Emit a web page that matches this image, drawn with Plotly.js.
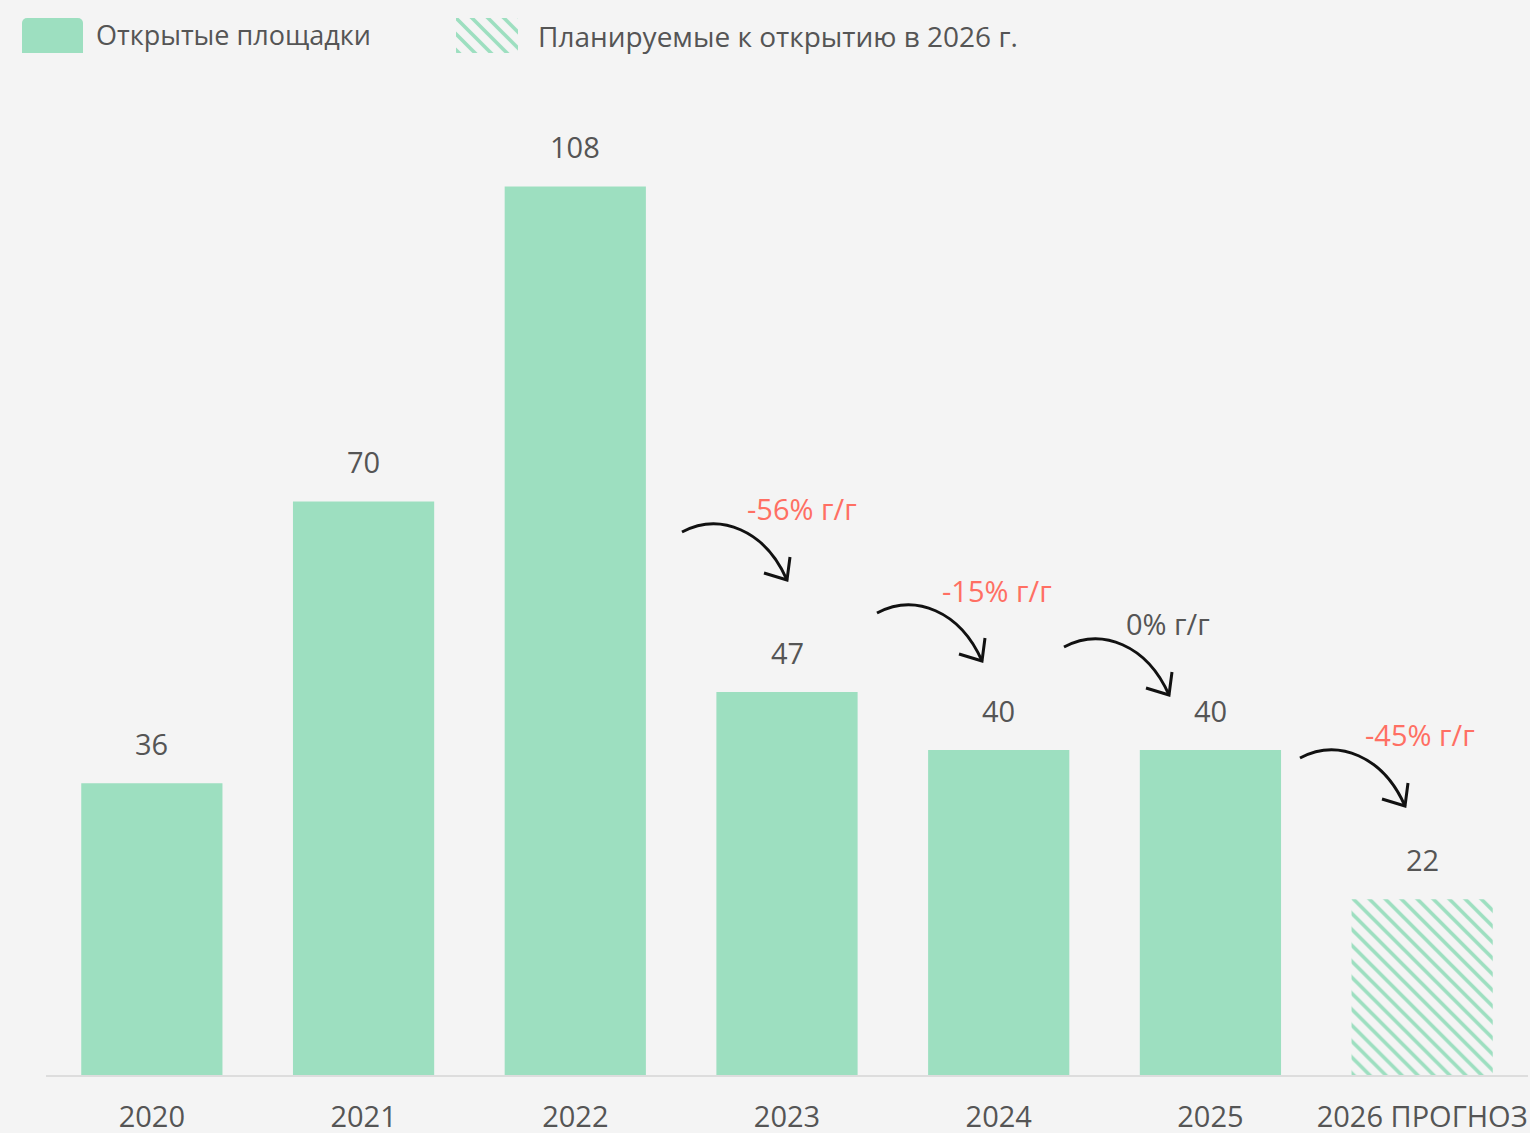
<!DOCTYPE html>
<html>
<head>
<meta charset="utf-8">
<script src="https://cdn.plot.ly/plotly-3.0.1.min.js"></script>
<style>
  html, body { margin: 0; padding: 0; background: #f4f4f4; }
  #chart { width: 1530px; height: 1133px; }
</style>
</head>
<body>
<div id="chart"></div>
<script>
// ---- Data ----
const categories = ['2020', '2021', '2022', '2023', '2024', '2025', '2026 ПРОГНОЗ'];
const values = [36, 70, 108, 47, 40, 40, 22];
const forecastFlags = [false, false, false, false, false, false, true];
const changeLabels = ['-56% г/г', '-15% г/г', '0% г/г', '-45% г/г'];
const legendLabels = ['Открытые площадки', 'Планируемые к открытию в 2026 г.'];

// ---- Styles ----
const GREEN = '#9ddfc0';
const BG = '#f4f4f4';
const TEXT = '#555555';
const RED = '#ff6f63';
const FONT = 'Open Sans, Noto Sans, sans-serif';

// plot geometry (pixel helpers for decorations)
const W = 1530, H = 1133, MB = 58;
const PLOT_L = 46, PLOT_R = 1528, PLOT_T = 87, PLOT_B = 1075;
const Y_MIN = 0.8, Y_MAX = 120;
function dx(px) { return -0.5 + (px - PLOT_L) / (PLOT_R - PLOT_L) * 7; }
function dy(py) { return Y_MIN + (PLOT_B - py) / (PLOT_B - PLOT_T) * (Y_MAX - Y_MIN); }

const idx = categories.map((c, i) => i);
const actX = idx.filter(i => !forecastFlags[i]);
const fcX = idx.filter(i => forecastFlags[i]);

const HATCH = { shape: '\\', size: 11.3, solidity: 0.32, fgcolor: GREEN, bgcolor: BG, fillmode: 'replace' };

const traces = [
  {
    type: 'bar', x: actX, y: actX.map(i => values[i]),
    xaxis: 'x', yaxis: 'y',
    marker: { color: GREEN, line: { width: 0 } },
    hoverinfo: 'skip', showlegend: false
  },
  {
    type: 'bar', x: fcX, y: fcX.map(i => values[i]),
    xaxis: 'x', yaxis: 'y',
    marker: { color: GREEN, line: { width: 0 }, pattern: HATCH },
    hoverinfo: 'skip', showlegend: false
  },
  // legend swatches
  {
    type: 'bar', x: [0], y: [1], width: [1], xaxis: 'x2', yaxis: 'y2',
    marker: { color: GREEN, cornerradius: 5, line: { width: 0 } },
    hoverinfo: 'skip', showlegend: false
  },
  {
    type: 'bar', x: [0], y: [1], width: [1], xaxis: 'x3', yaxis: 'y2',
    marker: { color: GREEN, line: { width: 0 }, pattern: HATCH },
    hoverinfo: 'skip', showlegend: false
  }
];

const annotations = [];
// value labels
values.forEach((v, i) => {
  annotations.push({
    xref: 'x', yref: 'y', x: i, y: v, yanchor: 'bottom', xanchor: 'center',
    yshift: 18, showarrow: false, text: String(v),
    font: { family: FONT, size: 29, color: TEXT }
  });
});
// legend labels
annotations.push({
  xref: 'paper', yref: 'paper', x: 94 / W, y: (PLOT_B - 34) / PLOT_B,
  xanchor: 'left', yanchor: 'middle', showarrow: false, text: legendLabels[0],
  font: { family: FONT, size: 27, color: TEXT }
});
annotations.push({
  xref: 'paper', yref: 'paper', x: 536 / W, y: (PLOT_B - 36) / PLOT_B,
  xanchor: 'left', yanchor: 'middle', showarrow: false, text: legendLabels[1],
  font: { family: FONT, size: 28, color: TEXT }
});

// change labels + curved arrows (decoration positions in pixels)
const changePos = [[802, 508], [997, 590], [1168, 623], [1420, 734]];
const changeColor = [RED, RED, TEXT, RED];
const arrowStarts = [[682, 532], [877, 613], [1064, 647], [1300, 758]];

changeLabels.forEach((t, k) => {
  annotations.push({
    xref: 'x', yref: 'y', x: dx(changePos[k][0]), y: dy(changePos[k][1]),
    xanchor: 'center', yanchor: 'middle', showarrow: false, text: t,
    font: { family: FONT, size: 29, color: changeColor[k] }
  });
});

const shapes = [];
arrowStarts.forEach(([sx, sy]) => {
  const p = (ox, oy) => dx(sx + ox) + ',' + dy(sy + oy);
  shapes.push({
    type: 'path', xref: 'x', yref: 'y', layer: 'above',
    path: 'M' + p(0, 0) + ' C' + p(38, -20) + ' ' + p(83, -2) + ' ' + p(105, 48),
    line: { color: '#111111', width: 3 }, fillcolor: 'rgba(0,0,0,0)'
  });
  shapes.push({
    type: 'path', xref: 'x', yref: 'y', layer: 'above',
    path: 'M' + p(108, 25) + ' L' + p(105, 48) + ' L' + p(82, 41),
    line: { color: '#111111', width: 3 }, fillcolor: 'rgba(0,0,0,0)'
  });
});

const layout = {
  width: W, height: H,
  margin: { l: 0, r: 0, t: 0, b: MB, pad: 0 },
  paper_bgcolor: BG, plot_bgcolor: BG,
  bargap: 0.333,
  showlegend: false,
  font: { family: FONT, color: TEXT },
  xaxis: {
    domain: [PLOT_L / W, PLOT_R / W], anchor: 'y',
    range: [-0.5, 6.5], tickvals: idx, ticktext: categories,
    showline: true, linecolor: '#dddddd', linewidth: 2,
    ticks: '', showgrid: false, zeroline: false, fixedrange: true,
    tickfont: { family: FONT, size: 29, color: TEXT },
    ticklabelstandoff: 15
  },
  yaxis: {
    domain: [0, (PLOT_B - PLOT_T) / PLOT_B], anchor: 'x',
    range: [Y_MIN, Y_MAX], visible: false, showgrid: false, zeroline: false, fixedrange: true
  },
  xaxis2: { domain: [22 / W, 83 / W], anchor: 'y2', range: [-0.5, 0.5], visible: false, fixedrange: true },
  xaxis3: { domain: [456 / W, 518 / W], anchor: 'y2', range: [-0.5, 0.5], visible: false, fixedrange: true },
  yaxis2: { domain: [(PLOT_B - 53) / PLOT_B, (PLOT_B - 18) / PLOT_B], anchor: 'x2', range: [0, 1], visible: false, fixedrange: true },
  annotations: annotations,
  shapes: shapes
};

Plotly.newPlot('chart', traces, layout, { displayModeBar: false, staticPlot: true });
</script>
</body>
</html>
